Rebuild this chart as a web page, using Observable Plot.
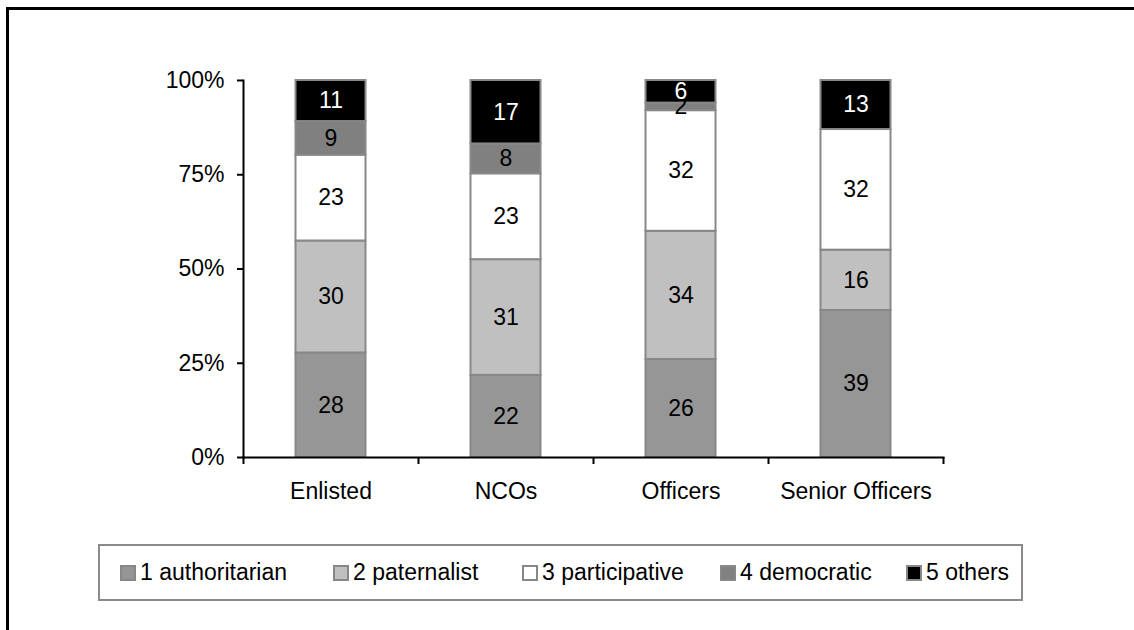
<!DOCTYPE html>
<html>
<head>
<meta charset="utf-8">
<script src="https://cdn.jsdelivr.net/npm/d3@7"></script>
<script src="https://cdn.jsdelivr.net/npm/@observablehq/plot@0.6"></script>
<style>
  html, body { margin: 0; padding: 0; background: #fff; }
  #wrap { position: relative; width: 1134px; height: 630px; overflow: hidden; font-family: "Liberation Sans", Arial, sans-serif; }
  #border { position: absolute; left: 6px; top: 7px; width: 1200px; height: 700px; border-top: 3px solid #000; border-left: 3px solid #000; }
  #chart { position: absolute; left: 0; top: 0; }
  #legend { position: absolute; left: 98px; top: 544px; width: 921px; height: 53px; border: 2px solid #8a8a8a; box-sizing: content-box; }
  .item { position: absolute; top: 0; height: 53px; display: flex; align-items: center; font-size: 23px; color: #000; white-space: nowrap; }
  .sw { width: 12px; height: 12px; border: 2px solid #888; margin-right: 4px; }
</style>
</head>
<body>
<div id="wrap">
  <div id="border"></div>
  <div id="chart"></div>
  <div id="legend"></div>
</div>
<script>
const categories = ["Enlisted", "NCOs", "Officers", "Senior Officers"];
const seriesNames = ["1 authoritarian", "2 paternalist", "3 participative", "4 democratic", "5 others"];
const authoritarian = [28, 22, 26, 39];
const paternalist = [30, 31, 34, 16];
const participative = [23, 23, 32, 32];
const democratic = [9, 8, 2, 0];
const others = [11, 17, 6, 13];
const yTicks = [0, 0.25, 0.5, 0.75, 1];
const seriesColors = ["#969696", "#c0c0c0", "#ffffff", "#808080", "#000000"];

const seriesValues = [authoritarian, paternalist, participative, democratic, others];
const colorOf = Object.fromEntries(seriesNames.map((s, i) => [s, seriesColors[i]]));
const data = [];
categories.forEach((c, ci) => {
  seriesNames.forEach((s, si) => {
    data.push({cat: c, series: s, value: seriesValues[si][ci]});
  });
});

const plotWidth = 1134, left = 243, right = 191;
const step = (plotWidth - left - right) / categories.length;
const barW = 70;
const inset = (step - barW) / 2;

const chart = Plot.plot({
  width: plotWidth,
  height: 520,
  marginLeft: left,
  marginRight: right,
  marginTop: 80,
  marginBottom: 63,
  x: {domain: categories, padding: 0, axis: null},
  y: {domain: [0, 1], axis: null},
  style: {fontFamily: "'Liberation Sans', Arial, sans-serif", fontSize: "23px", color: "#000", background: "transparent", overflow: "visible"},
  marks: [
    Plot.barY(data, Plot.stackY({offset: "normalize"}, {
      x: "cat", y: "value", z: "series",
      fill: d => colorOf[d.series],
      stroke: "#888", strokeWidth: 2,
      insetLeft: inset, insetRight: inset
    })),
    Plot.text(data, Plot.stackY({offset: "normalize"}, {
      x: "cat", y: "value", z: "series",
      text: d => d.value > 0 ? String(d.value) : "",
      fill: d => d.series === "5 others" ? "#ffffff" : "#000000",
      fontSize: 23
    })),
    Plot.frame({anchor: "left", stroke: "#000", strokeWidth: 2}),
    Plot.frame({anchor: "bottom", stroke: "#000", strokeWidth: 2}),
    Plot.ruleX(categories, {x: d => d, y1: 0, y2: 0, insetBottom: -7, dx: -step / 2, stroke: "#000", strokeWidth: 2}),
    Plot.ruleX(categories.slice(-1), {x: d => d, y1: 0, y2: 0, insetBottom: -7, dx: step / 2, stroke: "#000", strokeWidth: 2}),
    Plot.axisY(yTicks, {tickFormat: d3.format(".0%"), tickSize: 6, tickPadding: 13, fontSize: 23, stroke: "#000", strokeWidth: 2, strokeOpacity: 1, fill: "#000", label: null}),
    Plot.axisX({tickSize: 0, tickPadding: 25, fontSize: 23, fill: "#000", label: null})
  ]
});
document.getElementById("chart").appendChild(chart);

const legendPos = [20, 233, 422, 620, 806];
const legend = document.getElementById("legend");
seriesNames.forEach((s, i) => {
  const it = document.createElement("div");
  it.className = "item";
  it.style.left = legendPos[i] + "px";
  const sw = document.createElement("div");
  sw.className = "sw";
  sw.style.background = seriesColors[i];
  it.appendChild(sw);
  const t = document.createElement("span");
  t.textContent = s;
  it.appendChild(t);
  legend.appendChild(it);
});
</script>
</body>
</html>
